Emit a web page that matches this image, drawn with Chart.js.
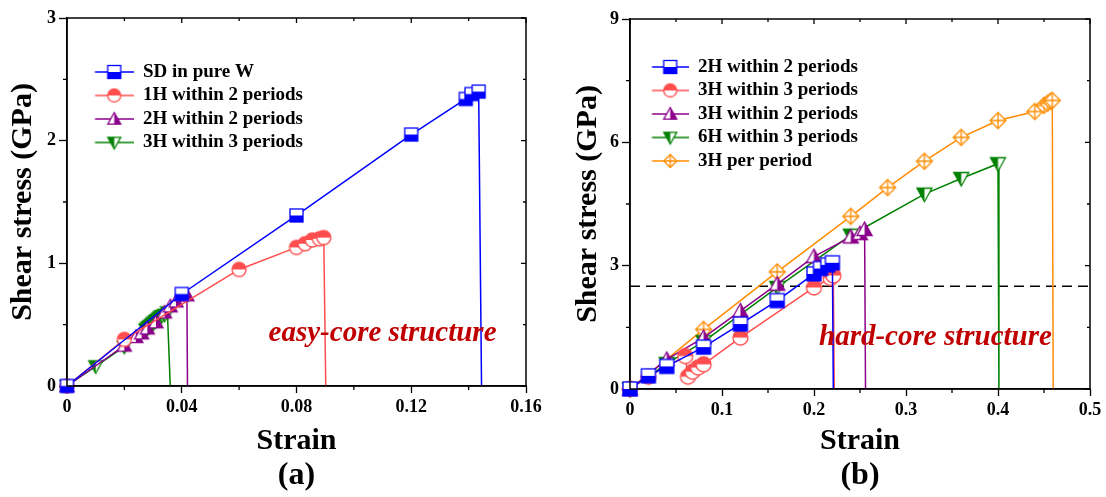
<!DOCTYPE html>
<html>
<head>
<meta charset="utf-8">
<script src="https://cdn.jsdelivr.net/npm/chart.js@4.4.1/dist/chart.umd.min.js"></script>
<style>
  html, body { margin: 0; padding: 0; background: #fff; }
  #wrap { position: relative; width: 1106px; height: 497px; }
  #wrap canvas { position: absolute; top: 0; }
</style>
</head>
<body>
<div id="wrap">
  <canvas id="chart-a" width="553" height="497" style="left:0"></canvas>
  <canvas id="chart-b" width="553" height="497" style="left:553px"></canvas>
</div>
<script>
// panel (a) axes
const aXTicks = [0, 0.04, 0.08, 0.12, 0.16];
const aXLabels = ['0', '0.04', '0.08', '0.12', '0.16'];
const aXMinor = [0.02, 0.06, 0.10, 0.14];
const aYTicks = [0, 1, 2, 3];
const aYLabels = ['0', '1', '2', '3'];
const aYMinor = [0.5, 1.5, 2.5];

// panel (a) series
const sdStrain = [0, 0.04, 0.08, 0.12, 0.139, 0.141, 0.1435, 0.1445];
const sdStress = [0, 0.75, 1.39, 2.05, 2.34, 2.38, 2.40, 0];
const h1p2Strain = [0, 0.02, 0.06, 0.08, 0.083, 0.0855, 0.088, 0.0895, 0.0902];
const h1p2Stress = [0, 0.38, 0.95, 1.13, 1.16, 1.19, 1.20, 1.21, 0];
const h2p2Strain = [0, 0.02, 0.024, 0.026, 0.028, 0.031, 0.034, 0.036, 0.038, 0.040, 0.0418, 0.042];
const h2p2Stress = [0, 0.33, 0.40, 0.43, 0.47, 0.52, 0.60, 0.65, 0.69, 0.74, 0.74, 0];
const h3p3Strain = [0, 0.01, 0.02, 0.0275, 0.028, 0.0285, 0.029, 0.0295, 0.030, 0.0305, 0.031, 0.0315, 0.032, 0.0325, 0.033, 0.034, 0.035, 0.036];
const h3p3Stress = [0, 0.16, 0.32, 0.46, 0.47, 0.48, 0.49, 0.50, 0.51, 0.52, 0.53, 0.54, 0.55, 0.56, 0.57, 0.58, 0.60, 0];

// panel (b) axes
const bXTicks = [0, 0.1, 0.2, 0.3, 0.4, 0.5];
const bXLabels = ['0', '0.1', '0.2', '0.3', '0.4', '0.5'];
const bXMinor = [0.05, 0.15, 0.25, 0.35, 0.45];
const bYTicks = [0, 3, 6, 9];
const bYLabels = ['0', '3', '6', '9'];
const bYMinor = [1.5, 4.5, 7.5];

// panel (b) series
const b2h2Strain = [0, 0.02, 0.04, 0.08, 0.12, 0.16, 0.20, 0.207, 0.215, 0.22, 0.221];
const b2h2Stress = [0, 0.32, 0.55, 1.02, 1.58, 2.15, 2.80, 2.93, 3.02, 3.07, 0];
const b3h3Strain = [0, 0.02, 0.06, 0.063, 0.068, 0.074, 0.08, 0.12, 0.20, 0.218, 0.221, 0.222];
const b3h3Stress = [0, 0.30, 0.80, 0.30, 0.42, 0.52, 0.60, 1.25, 2.47, 2.70, 2.76, 0];
const b3h2Strain = [0, 0.04, 0.08, 0.12, 0.16, 0.20, 0.24, 0.25, 0.255, 0.256];
const b3h2Stress = [0, 0.72, 1.25, 1.90, 2.55, 3.22, 3.70, 3.78, 3.88, 0];
const b6h3Strain = [0, 0.04, 0.08, 0.16, 0.24, 0.32, 0.36, 0.40, 0.401];
const b6h3Stress = [0, 0.62, 1.15, 2.47, 3.74, 4.74, 5.12, 5.48, 0];
const b3ppStrain = [0, 0.08, 0.16, 0.24, 0.28, 0.32, 0.36, 0.40, 0.44, 0.45, 0.454, 0.457, 0.459, 0.46];
const b3ppStress = [0, 1.45, 2.85, 4.20, 4.90, 5.54, 6.12, 6.53, 6.75, 6.90, 6.95, 7.00, 7.02, 0];
const refStrain = [0, 0.5];
const refStress = [2.5, 2.5];

const FONT = "'Liberation Serif', 'Times New Roman', serif";
const BLUE = '#0000ff', RED = '#ff4d4d', PURPLE = '#8b008b', GREEN = '#008000', ORANGE = '#ff8c00';

function poly(g, pts) {
  g.beginPath();
  pts.forEach((p, i) => i ? g.lineTo(p[0], p[1]) : g.moveTo(p[0], p[1]));
  g.closePath();
}

// half-filled markers like the original figure
function drawMarker(g, shape, cx, cy, r, color) {
  g.lineWidth = 1.3;
  g.strokeStyle = color;
  g.fillStyle = '#fff';
  if (shape === 'square') {
    g.fillRect(cx - r, cy - r, 2 * r, 2 * r);
    g.fillStyle = color;
    g.fillRect(cx - r, cy, 2 * r, r);
    g.strokeRect(cx - r, cy - r, 2 * r, 2 * r);
  } else if (shape === 'circle') {
    g.beginPath(); g.arc(cx, cy, r, 0, 2 * Math.PI); g.fill();
    g.fillStyle = color;
    g.beginPath(); g.arc(cx, cy, r, Math.PI, 2 * Math.PI); g.closePath(); g.fill();
    g.beginPath(); g.arc(cx, cy, r, 0, 2 * Math.PI); g.stroke();
  } else if (shape === 'triUp') {
    const t = cy - r, b = cy + 0.8 * r;
    poly(g, [[cx, t], [cx + r, b], [cx - r, b]]); g.fill();
    g.fillStyle = color;
    poly(g, [[cx, t], [cx + r, b], [cx, b]]); g.fill();
    poly(g, [[cx, t], [cx + r, b], [cx - r, b]]); g.stroke();
  } else if (shape === 'triDown') {
    const t = cy - 0.8 * r, b = cy + r;
    poly(g, [[cx - r, t], [cx + r, t], [cx, b]]); g.fill();
    g.fillStyle = color;
    poly(g, [[cx - r, t], [cx, t], [cx, b]]); g.fill();
    poly(g, [[cx - r, t], [cx + r, t], [cx, b]]); g.stroke();
  } else {
    poly(g, [[cx, cy - r], [cx + r, cy], [cx, cy + r], [cx - r, cy]]); g.fill(); g.stroke();
    g.beginPath();
    g.moveTo(cx, cy - r); g.lineTo(cx, cy + r);
    g.moveTo(cx - r, cy); g.lineTo(cx + r, cy);
    g.stroke();
  }
}

function markerCanvas(shape, color, r) {
  const c = document.createElement('canvas');
  const s = Math.ceil(2 * r + 4);
  c.width = s; c.height = s;
  drawMarker(c.getContext('2d'), shape, s / 2, s / 2, r, color);
  return c;
}

function legendCanvas(shape, color, w, lineStart) {
  const c = document.createElement('canvas');
  c.width = w; c.height = 20;
  const g = c.getContext('2d');
  g.strokeStyle = color; g.lineWidth = 1.5;
  g.beginPath(); g.moveTo(lineStart, 10); g.lineTo(w, 10); g.stroke();
  drawMarker(g, shape, (lineStart + w) / 2, 10, 6.5, color);
  return c;
}

function series(label, xs, ys, color, shape, r, lw, ls) {
  return {
    label: label,
    data: xs.map((x, i) => ({ x: x, y: ys[i] })),
    borderColor: color,
    backgroundColor: color,
    borderWidth: 1.5,
    pointStyle: markerCanvas(shape, color, r),
    pointRadius: ctx => (ctx.dataIndex === xs.length - 1 ? 0 : r),
    pointHoverRadius: ctx => (ctx.dataIndex === xs.length - 1 ? 0 : r),
    tension: 0,
    fill: false,
    clip: false,
    legendIcon: legendCanvas(shape, color, lw, ls)
  };
}

// box frame, minor ticks and inner ticks on top/right
const framePlugin = {
  id: 'frame',
  afterDatasetsDraw(chart, args, o) {
    const { ctx, chartArea: a, scales: { x, y } } = chart;
    ctx.save();
    ctx.strokeStyle = '#000';
    ctx.lineWidth = 1.5;
    ctx.strokeRect(a.left, a.top, a.right - a.left, a.bottom - a.top);
    ctx.lineWidth = 1.3;
    ctx.beginPath();
    o.xMinor.forEach(v => {
      const p = x.getPixelForValue(v);
      ctx.moveTo(p, a.bottom); ctx.lineTo(p, a.bottom + 4);
      ctx.moveTo(p, a.top); ctx.lineTo(p, a.top + 3);
    });
    o.xMajor.forEach(v => {
      const p = x.getPixelForValue(v);
      ctx.moveTo(p, a.top); ctx.lineTo(p, a.top + 5);
    });
    o.yMinor.forEach(v => {
      const p = y.getPixelForValue(v);
      ctx.moveTo(a.left, p); ctx.lineTo(a.left - 4, p);
      ctx.moveTo(a.right, p); ctx.lineTo(a.right - 3, p);
    });
    o.yMajor.forEach(v => {
      const p = y.getPixelForValue(v);
      ctx.moveTo(a.right, p); ctx.lineTo(a.right - 5, p);
    });
    ctx.stroke();
    ctx.restore();
  }
};

const notePlugin = {
  id: 'note',
  afterDatasetsDraw(chart, args, o) {
    const { ctx, scales: { x, y } } = chart;
    ctx.save();
    ctx.font = 'italic bold 29px ' + FONT;
    ctx.fillStyle = '#c00000';
    ctx.textAlign = 'center';
    ctx.textBaseline = 'middle';
    ctx.fillText(o.text, x.getPixelForValue(o.x), y.getPixelForValue(o.y));
    ctx.restore();
  }
};

const tickFont = { family: FONT, size: 18, weight: 'bold' };
const axisFont = { family: FONT, size: 30, weight: 'bold', lineHeight: 1 };

function makeOptions(p) {
  return {
    responsive: false,
    animation: false,
    events: [],
    layout: { padding: { top: p.top, right: p.right, left: 0, bottom: 0 } },
    scales: {
      x: {
        type: 'linear', min: p.xTicks[0], max: p.xTicks[p.xTicks.length - 1],
        afterBuildTicks: s => { s.ticks = p.xTicks.map(v => ({ value: v })); },
        afterFit: s => { s.height = p.xAxisH; },
        ticks: { callback: (v, i) => p.xLabels[i], font: tickFont, color: '#000', padding: 4, maxRotation: 0, autoSkip: false },
        grid: { drawOnChartArea: false, tickLength: 7, tickColor: '#000', tickWidth: 1.3 },
        border: { color: '#000', width: 1.5 },
        title: { display: true, text: 'Strain', font: axisFont, color: '#000', padding: { top: 0, bottom: 4 } }
      },
      y: {
        type: 'linear', min: p.yTicks[0], max: p.yTicks[p.yTicks.length - 1],
        afterBuildTicks: s => { s.ticks = p.yTicks.map(v => ({ value: v })); },
        afterFit: s => { s.width = p.yAxisW; },
        ticks: { callback: (v, i) => p.yLabels[i], font: tickFont, color: '#000', padding: 3 },
        grid: { drawOnChartArea: false, tickLength: 8, tickColor: '#000', tickWidth: 1.3 },
        border: { color: '#000', width: 1.5 },
        title: { display: true, text: 'Shear stress (GPa)', font: axisFont, color: '#000', padding: { top: p.yTitlePad, bottom: 0 } }
      }
    },
    plugins: {
      legend: {
        position: 'chartArea',
        align: 'start',
        title: { display: true, text: '', font: { size: 10, lineHeight: 1 }, padding: { top: p.legendTop, bottom: 0 } },
        labels: {
          usePointStyle: true,
          pointStyleWidth: p.legendW,
          font: { family: FONT, size: 19, weight: 'bold' },
          color: '#000',
          padding: 4.5,
          filter: (item, data) => !!data.datasets[item.datasetIndex].legendIcon,
          generateLabels: chart => Chart.defaults.plugins.legend.labels.generateLabels(chart).map(it => {
            const ds = chart.data.datasets[it.datasetIndex];
            if (ds.legendIcon) it.pointStyle = ds.legendIcon;
            return it;
          })
        }
      },
      title: {
        display: true, position: 'bottom', fullSize: false, text: p.panel,
        font: { family: FONT, size: 32, weight: 'bold', lineHeight: 1 }, color: '#000',
        padding: { top: 0, bottom: 5 }
      },
      tooltip: { enabled: false },
      frame: { xMinor: p.xMinor, yMinor: p.yMinor, xMajor: p.xTicks, yMajor: p.yTicks },
      note: p.note
    }
  };
}

new Chart(document.getElementById('chart-a'), {
  type: 'line',
  data: {
    datasets: [
      series('SD in pure W', sdStrain, sdStress, BLUE, 'square', 6.5, 62, 23.5),
      series('1H within 2 periods', h1p2Strain, h1p2Stress, RED, 'circle', 7, 62, 23.5),
      series('2H within 2 periods', h2p2Strain, h2p2Stress, PURPLE, 'triUp', 7, 62, 23.5),
      series('3H within 3 periods', h3p3Strain, h3p3Stress, GREEN, 'triDown', 7, 62, 23.5)
    ]
  },
  options: makeOptions({
    top: 18, right: 27, xAxisH: 74, yAxisW: 67, yTitlePad: 8, legendTop: 48, legendW: 62,
    xTicks: aXTicks, xLabels: aXLabels, xMinor: aXMinor,
    yTicks: aYTicks, yLabels: aYLabels, yMinor: aYMinor, panel: '(a)',
    note: { text: 'easy-core structure', x: 0.110, y: 0.43 }
  }),
  plugins: [framePlugin, notePlugin]
});

new Chart(document.getElementById('chart-b'), {
  type: 'line',
  data: {
    datasets: [
      series('2H within 2 periods', b2h2Strain, b2h2Stress, BLUE, 'square', 7, 54, 17.5),
      series('3H within 3 periods', b3h3Strain, b3h3Stress, RED, 'circle', 7.5, 54, 17.5),
      series('3H within 2 periods', b3h2Strain, b3h2Stress, PURPLE, 'triUp', 7.5, 54, 17.5),
      series('6H within 3 periods', b6h3Strain, b6h3Stress, GREEN, 'triDown', 7.5, 54, 17.5),
      series('3H per period', b3ppStrain, b3ppStress, ORANGE, 'diamond', 8, 54, 17.5),
      {
        label: '',
        data: refStrain.map((x, i) => ({ x: x, y: refStress[i] })),
        borderColor: '#000', borderWidth: 1.5, borderDash: [10, 6],
        pointRadius: 0, fill: false, clip: false
      }
    ]
  },
  options: makeOptions({
    top: 19, right: 16, xAxisH: 71, yAxisW: 77, yTitlePad: 20, legendTop: 43, legendW: 54,
    xTicks: bXTicks, xLabels: bXLabels, xMinor: bXMinor,
    yTicks: bYTicks, yLabels: bYLabels, yMinor: bYMinor, panel: '(b)',
    note: { text: 'hard-core structure', x: 0.332, y: 1.26 }
  }),
  plugins: [framePlugin, notePlugin]
});
</script>
</body>
</html>
